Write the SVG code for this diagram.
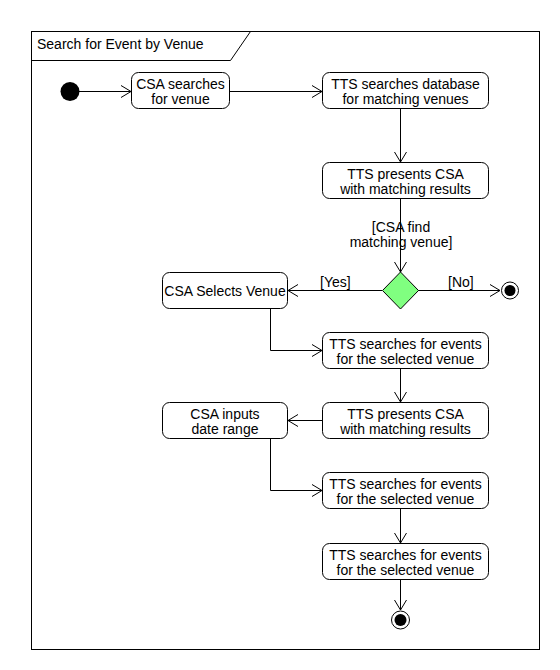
<svg xmlns="http://www.w3.org/2000/svg" width="560" height="670" viewBox="0 0 560 670">
<defs>
<marker id="arr" viewBox="0 0 12 14" refX="11" refY="7" markerWidth="12" markerHeight="14" markerUnits="userSpaceOnUse" orient="auto">
<path d="M1,1 L11,7 L1,13" fill="none" stroke="#000" stroke-width="1"/>
</marker>
<style>
text{font-family:"Liberation Sans",Arial,sans-serif;font-size:14px;fill:#000}
.c{text-anchor:middle}
.box{fill:#fff;stroke:#000;stroke-width:1}
.edge{fill:none;stroke:#000;stroke-width:1;marker-end:url(#arr)}
</style>
</defs>
<rect width="560" height="670" fill="#fff"/>
<g id="frame">
<rect x="31.5" y="31.5" width="508" height="618" fill="none" stroke="#000"/>
<path d="M31.5,60.5 H230.5 L250.5,31.5" fill="none" stroke="#000"/>
<text x="37" y="49">Search for Event by Venue</text>
</g>
<g id="connectors">
<path class="edge" d="M79,91.5 H131"/>
<path class="edge" d="M230,91.5 H322"/>
<path class="edge" d="M400.5,109 V162"/>
<path class="edge" d="M400.5,199 V272"/>
<path class="edge" d="M382,290.5 H288"/>
<path class="edge" d="M418,290.5 H500"/>
<path class="edge" d="M270.5,309 V350.5 H322"/>
<path class="edge" d="M400.5,369 V402"/>
<path class="edge" d="M322,420.5 H288"/>
<path class="edge" d="M270.5,439 V490.5 H322"/>
<path class="edge" d="M400.5,509 V543"/>
<path class="edge" d="M400.5,580 V610"/>
<text class="c" x="401" y="232">[CSA find</text>
<text class="c" x="401" y="247">matching venue]</text>
<text x="320" y="287">[Yes]</text>
<text x="448" y="287">[No]</text>
</g>
<g id="initial"><circle cx="70" cy="91.5" r="9.5" fill="#000"/></g>
<g id="n1"><rect class="box" x="131.5" y="72.5" width="98" height="36" rx="7"/>
<text class="c" x="180.5" y="89">CSA searches</text><text class="c" x="180.5" y="103.5">for venue</text></g>
<g id="n2"><rect class="box" x="322.5" y="72.5" width="166" height="36" rx="7"/>
<text class="c" x="405.5" y="89">TTS searches database</text><text class="c" x="405.5" y="103.5">for matching venues</text></g>
<g id="n3"><rect class="box" x="322.5" y="162.5" width="166" height="36" rx="7"/>
<text class="c" x="405.5" y="179">TTS presents CSA</text><text class="c" x="405.5" y="193.5">with matching results</text></g>
<g id="decision"><path d="M400.5,272 L418.5,290.5 L400.5,309 L382.5,290.5 Z" fill="#80ff80" stroke="#000"/></g>
<g id="final1"><circle cx="510" cy="290.5" r="8.5" fill="#fff" stroke="#000"/><circle cx="510" cy="290.5" r="5.5" fill="#000"/></g>
<g id="n4"><rect class="box" x="162.5" y="272.5" width="125" height="36" rx="7"/>
<text class="c" x="225" y="295.5">CSA Selects Venue</text></g>
<g id="n5"><rect class="box" x="322.5" y="332.5" width="166" height="36" rx="7"/>
<text class="c" x="405.5" y="349">TTS searches for events</text><text class="c" x="405.5" y="363.5">for the selected venue</text></g>
<g id="n6"><rect class="box" x="322.5" y="402.5" width="166" height="36" rx="7"/>
<text class="c" x="405.5" y="419">TTS presents CSA</text><text class="c" x="405.5" y="433.5">with matching results</text></g>
<g id="n7"><rect class="box" x="162.5" y="402.5" width="125" height="36" rx="7"/>
<text class="c" x="225" y="419">CSA inputs</text><text class="c" x="225" y="433.5">date range</text></g>
<g id="n8"><rect class="box" x="322.5" y="472.5" width="166" height="36" rx="7"/>
<text class="c" x="405.5" y="489">TTS searches for events</text><text class="c" x="405.5" y="503.5">for the selected venue</text></g>
<g id="n9"><rect class="box" x="322.5" y="543.5" width="166" height="36" rx="7"/>
<text class="c" x="405.5" y="560">TTS searches for events</text><text class="c" x="405.5" y="574.5">for the selected venue</text></g>
<g id="final2"><circle cx="400.5" cy="620" r="9" fill="#fff" stroke="#000"/><circle cx="400.5" cy="620" r="6" fill="#000"/></g>
</svg>
